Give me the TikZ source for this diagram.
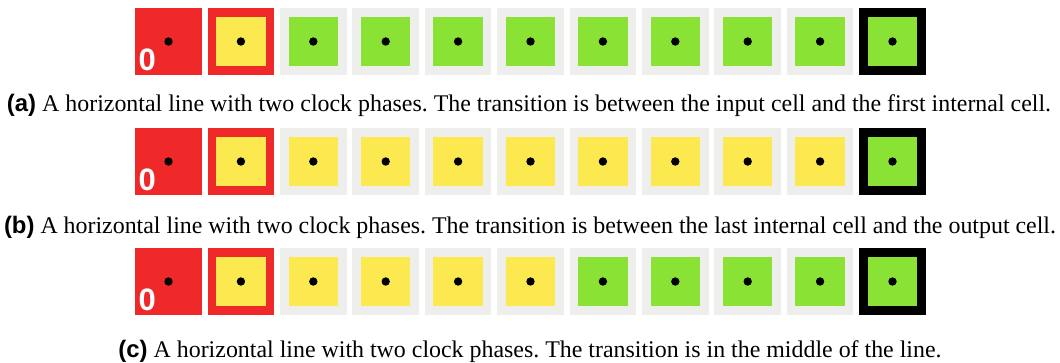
\documentclass[tikz,border=0pt]{standalone}
\usepackage{fontspec}
\setmainfont{Liberation Serif}
\setsansfont{Liberation Sans}
\definecolor{cellred}{HTML}{EF2929}
\definecolor{cellyellow}{HTML}{FCE94F}
\definecolor{cellgreen}{HTML}{8AE234}
\definecolor{cellgray}{HTML}{EEEEEC}
\frenchspacing
% one line of cells: input cell, first internal cell, eight internal cells, output cell
\newcommand{\cellline}[3]{%
  % #1 row name, #2 centre height, #3 core colours of cells 3..10
  \node[cellbox, fill=cellred] (#1-1) at (168.5,#2) {};
  \node[dot] (#1-1-dot) at (#1-1) {};
  \node[zero] (#1-zero) at (138.5,#2+29.5) {0};
  \node[cellbox, fill=cellred] (#1-2) at (240.9,#2) {};
  \node[core, fill=cellyellow] (#1-2-core) at (#1-2) {};
  \node[dot] (#1-2-dot) at (#1-2) {};
  \foreach \c [count=\i from 3] in {#3} {
    \node[cellbox, fill=cellgray] (#1-\i) at ({168.5+(\i-1)*72.4},#2) {};
    \node[core, fill=\c] (#1-\i-core) at (#1-\i) {};
    \node[dot] (#1-\i-dot) at (#1-\i) {};
  }
  \node[cellbox, fill=black] (#1-11) at (892.5,#2) {};
  \node[core, fill=cellgreen] (#1-11-core) at (#1-11) {};
  \node[dot] (#1-11-dot) at (#1-11) {};
}
\begin{document}
\begin{tikzpicture}[x=1pt,y=-1pt,
  cellbox/.style={rectangle, draw=none, minimum size=66.5pt, inner sep=0pt, outer sep=0pt},
  core/.style={rectangle, draw=none, minimum size=49.5pt, inner sep=0pt, outer sep=0pt},
  dot/.style={circle, fill=black, minimum size=8.4pt, inner sep=0pt},
  zero/.style={anchor=base west, inner sep=0pt, text=white,
    font=\sffamily\bfseries\fontsize{31}{31}\selectfont},
  caption/.style={anchor=base, inner sep=0pt, font=\fontsize{23.9}{29}\selectfont}]
\useasboundingbox (0,0) rectangle (1060,363);

\cellline{a}{41.5}{cellgreen,cellgreen,cellgreen,cellgreen,cellgreen,cellgreen,cellgreen,cellgreen}
\node[caption] (capa) at (529,111.7) {\textsf{\bfseries (a)} A horizontal line with two clock phases. The transition is between the input cell and the first internal cell.};

\cellline{b}{161.5}{cellyellow,cellyellow,cellyellow,cellyellow,cellyellow,cellyellow,cellyellow,cellyellow}
\node[caption] (capb) at (530,233.3) {\textsf{\bfseries (b)} A horizontal line with two clock phases. The transition is between the last internal cell and the output cell.};

\cellline{c}{281.5}{cellyellow,cellyellow,cellyellow,cellyellow,cellgreen,cellgreen,cellgreen,cellgreen}
\node[caption] (capc) at (530,357.5) {\textsf{\bfseries (c)} A horizontal line with two clock phases. The transition is in the middle of the line.};
\end{tikzpicture}
\end{document}
